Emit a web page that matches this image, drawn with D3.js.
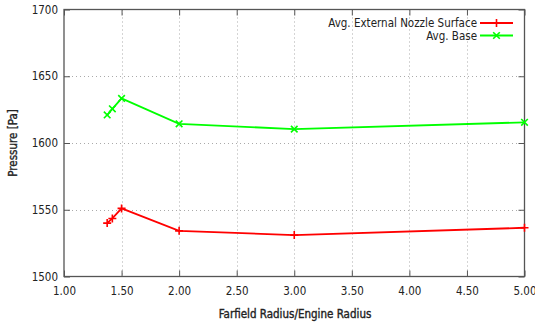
<!DOCTYPE html>
<html><head><meta charset="utf-8">
<script src="https://cdn.jsdelivr.net/npm/d3@7"></script>
<style>
body{margin:0;background:#fff;}
text{font-family:"DejaVu Sans Condensed","DejaVu Sans",sans-serif;}
</style></head>
<body><svg id="c" width="535" height="325"></svg>
<script>
const xValues = [1.375, 1.42, 1.5, 2.0, 3.0, 5.0];
const nozzleValues = [1540.0, 1543.5, 1551.0, 1534.2, 1531.0, 1536.5];
const baseValues = [1621.0, 1625.6, 1633.4, 1614.4, 1610.4, 1615.5];
const seriesNames = ["Avg. External Nozzle Surface", "Avg. Base"];
const seriesColors = ["#ff0000", "#00ff00"];
const xTicks = [1.0, 1.5, 2.0, 2.5, 3.0, 3.5, 4.0, 4.5, 5.0];
const yTicks = [1500, 1550, 1600, 1650, 1700];

const svg = d3.select("#c");
const L = 64, R = 524.5, T = 9.5, B = 276.5;
const x = d3.scaleLinear().domain([1, 5]).range([L, R]);
const y = d3.scaleLinear().domain([1500, 1700]).range([B, T]);
const axisCol = "#555";
const txtCol = "#222";
const FS = "11.5px";

// grid
const g = svg.append("g");
g.selectAll(".gx").data(xTicks.slice(1, -1)).enter().append("line")
  .attr("x1", d => Math.round(x(d)) + 0.5).attr("x2", d => Math.round(x(d)) + 0.5)
  .attr("y1", T).attr("y2", B).attr("stroke", "#aaa").attr("stroke-dasharray", "1,3");
g.selectAll(".gy").data(yTicks.slice(1, -1)).enter().append("line")
  .attr("y1", d => Math.round(y(d)) + 0.5).attr("y2", d => Math.round(y(d)) + 0.5)
  .attr("x1", L).attr("x2", R).attr("stroke", "#aaa").attr("stroke-dasharray", "1,3");

// axes
const fmt = d3.format(".2f");
const xb = svg.append("g").attr("transform", `translate(0,${B})`)
  .call(d3.axisBottom(x).tickValues(xTicks).tickFormat(fmt).tickSize(-6).tickPadding(10));
const xt = svg.append("g").attr("transform", `translate(0,${T})`)
  .call(d3.axisTop(x).tickValues(xTicks).tickFormat("").tickSize(-6));
const yl = svg.append("g").attr("transform", `translate(${L},0)`)
  .call(d3.axisLeft(y).tickValues(yTicks).tickFormat(d3.format("d")).tickSize(-6).tickPadding(6));
const yr = svg.append("g").attr("transform", `translate(${R},0)`)
  .call(d3.axisRight(y).tickValues(yTicks).tickFormat("").tickSize(-6));
[xb, xt, yl, yr].forEach(a => {
  a.select(".domain").remove();
  a.selectAll("line").attr("stroke", axisCol);
  a.selectAll("text").attr("fill", txtCol).style("font-size", FS)
    .style("font-family", '"DejaVu Sans Condensed","DejaVu Sans",sans-serif');
});
svg.append("rect").attr("x", L).attr("y", T).attr("width", R - L).attr("height", B - T)
  .attr("fill", "none").attr("stroke", axisCol).attr("stroke-width", 1.3);

// series
const series = [nozzleValues, baseValues];
const line = d3.line().x((d, i) => x(xValues[i])).y(d => y(d));
series.forEach((vals, si) => {
  svg.append("path").datum(vals).attr("d", line).attr("fill", "none")
    .attr("stroke", seriesColors[si]).attr("stroke-width", 1.8);
  const pts = svg.append("g");
  vals.forEach((v, i) => {
    drawMarker(pts, si, x(xValues[i]), y(v), seriesColors[si]);
  });
});
function drawMarker(sel, si, px, py, col) {
  const s = 4;
  if (si === 0) {
    sel.append("path").attr("d", `M${px - s},${py}H${px + s}M${px},${py - s}V${py + s}`)
      .attr("stroke", col).attr("stroke-width", 1.6);
  } else {
    const t = 3.3;
    sel.append("path").attr("d", `M${px - t},${py - t}L${px + t},${py + t}M${px - t},${py + t}L${px + t},${py - t}`)
      .attr("stroke", col).attr("stroke-width", 1.6);
  }
}

// legend
seriesNames.forEach((n, i) => {
  const ly = 23 + i * 12.5;
  svg.append("text").attr("x", 477).attr("y", ly + 4).attr("text-anchor", "end")
    .style("font-size", FS).attr("fill", txtCol).text(n);
  svg.append("line").attr("x1", 480).attr("x2", 513).attr("y1", ly).attr("y2", ly)
    .attr("stroke", seriesColors[i]).attr("stroke-width", 1.8);
  drawMarker(svg, i, 496.5, ly, seriesColors[i]);
});

// axis labels
svg.append("text").attr("x", 295).attr("y", 318).attr("text-anchor", "middle")
  .style("font-size", FS).attr("fill", txtCol).attr("stroke", txtCol).attr("stroke-width", 0.35)
  .text("Farfield Radius/Engine Radius");
svg.append("text").attr("transform", `translate(17,${(T + B) / 2}) rotate(-90)`)
  .attr("text-anchor", "middle").style("font-size", FS)
  .attr("fill", txtCol).attr("stroke", txtCol).attr("stroke-width", 0.35).text("Pressure [Pa]");
</script></body></html>
